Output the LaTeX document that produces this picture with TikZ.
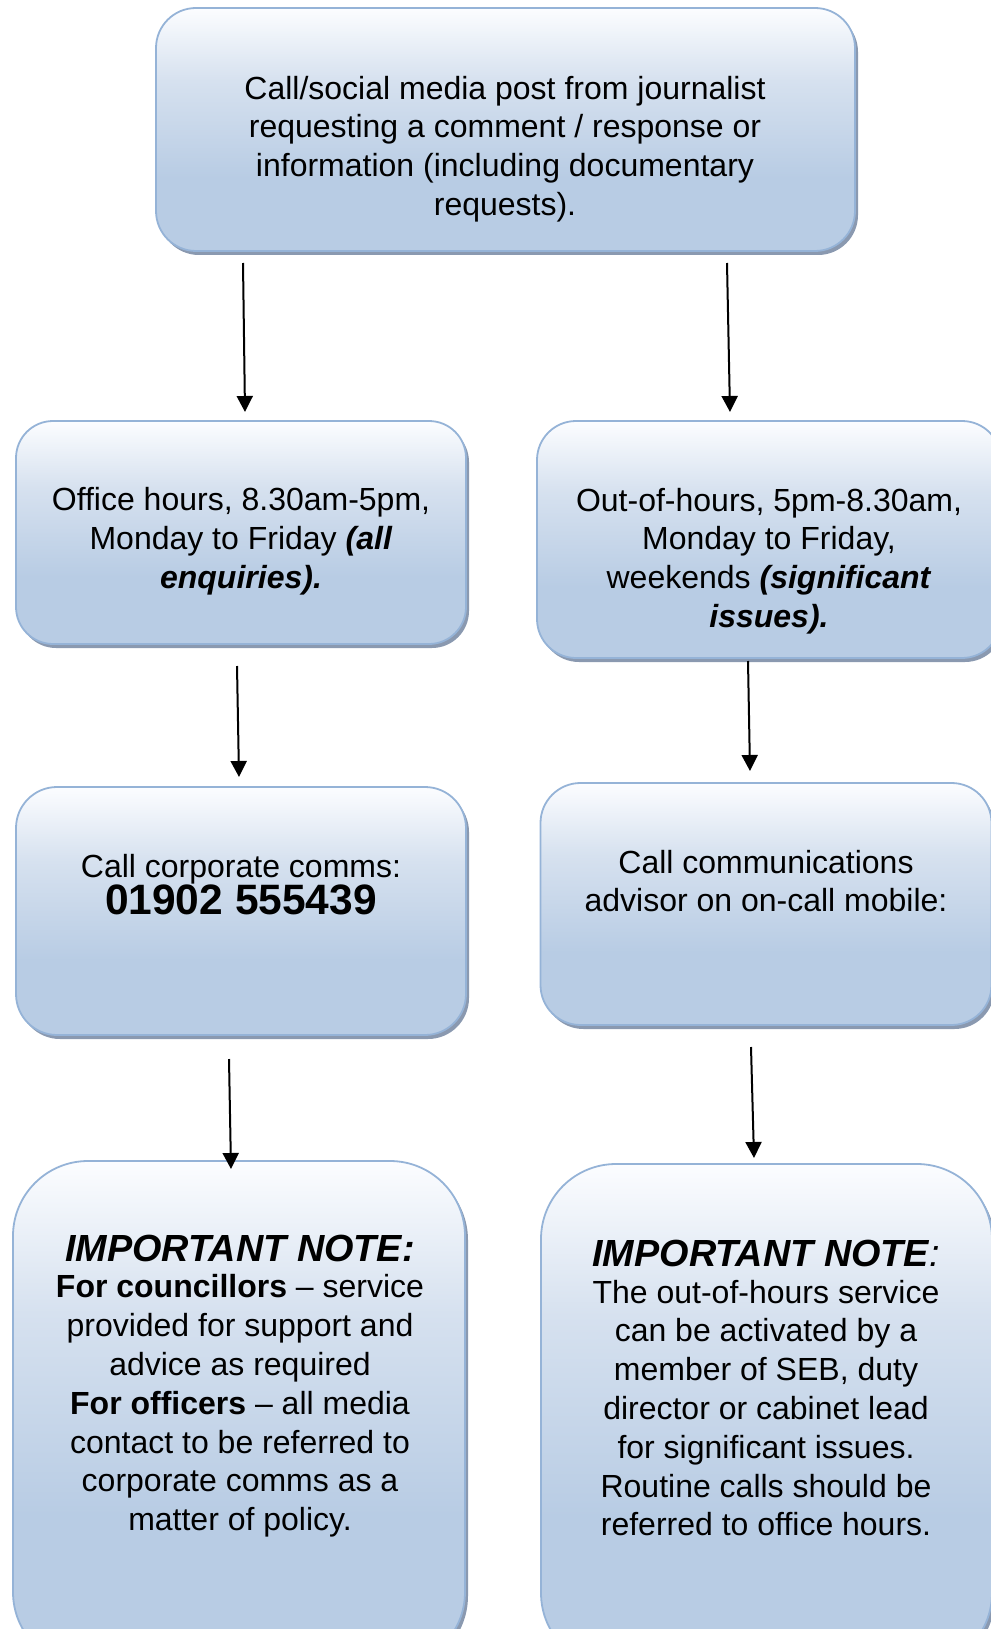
\documentclass[tikz,border=0pt]{standalone}
\usepackage{fontspec}
\setmainfont{Liberation Sans}
\usetikzlibrary{arrows.meta,shadows}
\definecolor{boxbot}{RGB}{184,204,228}
\definecolor{boxmid}{RGB}{214,225,239}
\definecolor{boxtop}{RGB}{252,253,255}
\definecolor{boxline}{RGB}{149,179,215}
\definecolor{shadowcol}{RGB}{138,153,176}
\pgfdeclareverticalshading{boxshade}{100bp}{color(0bp)=(boxbot); color(25bp)=(boxbot); color(40bp)=(boxbot); color(60bp)=(boxmid); color(75bp)=(boxtop); color(100bp)=(boxtop)}
\tikzset{
  box/.style={draw=boxline, line width=1.8pt, shading=boxshade, inner sep=0pt,
    drop shadow={shadow xshift=3pt, shadow yshift=-4pt, fill=shadowcol, opacity=1}},
  txt/.style={align=center, font=\fontsize{32}{38.8}\selectfont, inner sep=0pt},
  arr/.style={line width=2pt, -{Triangle[length=16pt,width=16pt]}}
}
\newcommand{\impnote}{\fontsize{37.8}{38.8}\selectfont\bfseries\itshape}
\begin{document}
\begin{tikzpicture}[x=1pt,y=-1pt]
\useasboundingbox (0,0) rectangle (990,1629);
% boxes
\node[box, minimum width=699pt, minimum height=243pt, rounded corners=40pt] (top) at (505.5,129.5) {};
\node[box, minimum width=450pt, minimum height=223pt, rounded corners=37pt] (office) at (241,532.5) {};
\node[box, minimum width=464pt, minimum height=237pt, rounded corners=39pt] (ooh) at (769,539.5) {};
\node[box, minimum width=450pt, minimum height=248pt, rounded corners=41pt] (corp) at (241,911) {};
\node[box, minimum width=451pt, minimum height=242pt, rounded corners=40pt] (adv) at (766,904) {};
\node[box, minimum width=452pt, minimum height=506pt, rounded corners=75pt] (impl) at (239,1414) {};
\node[box, minimum width=451pt, minimum height=504pt, rounded corners=75pt] (impr) at (766.5,1416) {};
% texts
\node[txt] (t1) at (505,149) {Call/social media post from journalist\\requesting a comment / response or\\information (including documentary\\requests).};
\node[txt] (t2) at (241,541) {Office hours, 8.30am-5pm,\\Monday to Friday \textbf{\textit{(all}}\\\textbf{\textit{enquiries).}}};
\node[txt] (t3) at (769,561) {Out-of-hours, 5pm-8.30am,\\Monday to Friday,\\weekends \textbf{\textit{(significant}}\\\textbf{\textit{issues).}}};
\node[txt] (t4) at (241,885) {Call corporate comms:\\[-2pt]{\fontsize{42.5}{42}\selectfont\bfseries 01902 555439}};
\node[txt] (t5) at (766,881) {Call communications\\advisor on on-call mobile:};
\node[txt] (t6) at (240,1386) {{\impnote IMPORTANT NOTE:}\\[-2pt]\textbf{For councillors} – service\\provided for support and\\advice as required\\\textbf{For officers} – all media\\contact to be referred to\\corporate comms as a\\matter of policy.};
\node[txt] (t7) at (766,1388) {{\impnote IMPORTANT NOTE}{\fontsize{37.8}{38.8}\selectfont\itshape :}\\[-2pt]The out-of-hours service\\can be activated by a\\member of SEB, duty\\director or cabinet lead\\for significant issues.\\Routine calls should be\\referred to office hours.};
% connector end points
\coordinate (a1s) at (243,263); \coordinate (a1e) at (245,412);
\coordinate (a2s) at (727,263); \coordinate (a2e) at (730,412);
\coordinate (a3s) at (237,666); \coordinate (a3e) at (239,777);
\coordinate (a4s) at (748,661); \coordinate (a4e) at (750,771);
\coordinate (a5s) at (229,1059); \coordinate (a5e) at (231,1169);
\coordinate (a6s) at (751,1047); \coordinate (a6e) at (754,1158);
\draw[arr] (a1s) -- (a1e);
\draw[arr] (a2s) -- (a2e);
\draw[arr] (a3s) -- (a3e);
\draw[arr] (a4s) -- (a4e);
\draw[arr] (a5s) -- (a5e);
\draw[arr] (a6s) -- (a6e);
\end{tikzpicture}
\end{document}
